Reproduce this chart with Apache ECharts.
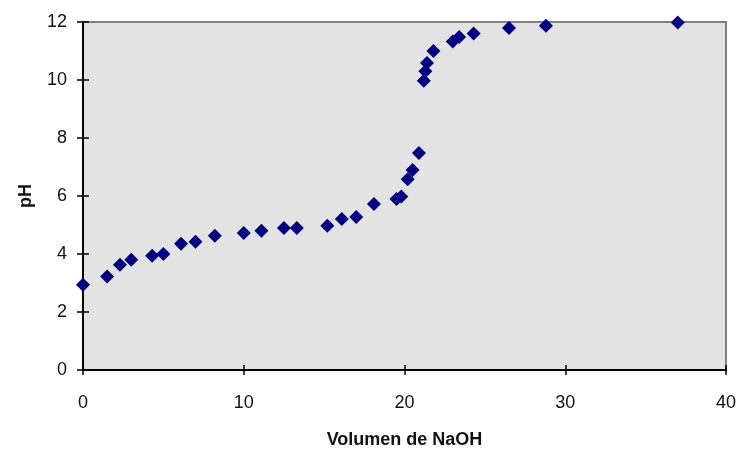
<!DOCTYPE html>
<html>
<head>
<meta charset="utf-8">
<script src="https://cdn.jsdelivr.net/npm/echarts@6/dist/echarts.min.js"></script>
<style>
    html, body { margin: 0; padding: 0; background: #fff; }
    #ph-chart { width: 739px; height: 450px; }
</style>
</head>
<body>
<div id="ph-chart"></div>
<script>
// curva de titulación: volumen de NaOH añadido vs pH
var volumen = [0, 1.5, 2.3, 3, 4.3, 5, 6.1, 7, 8.2, 10, 11.1, 12.5, 13.3, 15.2, 16.1, 17, 18.1, 19.5, 19.8, 20.2, 20.5, 20.9, 21.2, 21.3, 21.4, 21.8, 23, 23.4, 24.3, 26.5, 28.8, 37];
var ph = [2.94, 3.22, 3.63, 3.8, 3.94, 4.0, 4.35, 4.42, 4.63, 4.72, 4.8, 4.9, 4.9, 4.97, 5.21, 5.28, 5.72, 5.9, 5.98, 6.58, 6.9, 7.48, 9.97, 10.3, 10.59, 11.0, 11.33, 11.48, 11.6, 11.79, 11.87, 11.98];
var xTicks = { min: 0, max: 40, interval: 10 };
var yTicks = { min: 0, max: 12, interval: 2 };

var puntos = volumen.map(function (v, i) { return [v, ph[i]]; });

var myChart = echarts.init(document.getElementById('ph-chart'));
var fuente = '"Liberation Sans", Arial, sans-serif';
var textColor = '#111';

var option = {
    animation: false,
    textStyle: { fontFamily: fuente },
    grid: {
        left: 83,
        right: 13,
        top: 22,
        bottom: 80,
        outerBoundsMode: 'none',
        show: true,
        backgroundColor: '#e3e3e3',
        borderColor: '#808080',
        borderWidth: 2
    },
    xAxis: [{
        type: 'value',
        min: xTicks.min,
        max: xTicks.max,
        interval: xTicks.interval,
        name: 'Volumen de NaOH',
        nameLocation: 'middle',
        nameGap: 61,
        nameTextStyle: { color: textColor, fontSize: 18, fontWeight: 'bold', fontFamily: fuente },
        axisLine: { show: true, lineStyle: { color: '#000', width: 2 } },
        axisTick: { show: true, length: 5, lineStyle: { color: '#000', width: 1.5 } },
        axisLabel: { color: textColor, fontSize: 18, margin: 24, fontFamily: fuente },
        splitLine: { show: false }
    }, {
        // marcas hacia dentro (tipo cruz, como en Excel)
        type: 'value',
        position: 'bottom',
        min: xTicks.min,
        max: xTicks.max,
        interval: xTicks.interval,
        axisLine: { show: false },
        axisTick: { show: true, inside: true, length: 5, lineStyle: { color: '#000', width: 1.5 } },
        axisLabel: { show: false },
        splitLine: { show: false }
    }],
    yAxis: [{
        type: 'value',
        min: yTicks.min,
        max: yTicks.max,
        interval: yTicks.interval,
        name: 'pH',
        nameLocation: 'middle',
        nameGap: 48,
        nameRotate: 90,
        nameTextStyle: { color: textColor, fontSize: 18, fontWeight: 'bold', fontFamily: fuente },
        axisLine: { show: true, lineStyle: { color: '#000', width: 2 } },
        axisTick: { show: true, length: 6, lineStyle: { color: '#000', width: 1.5 } },
        axisLabel: { color: textColor, fontSize: 18, margin: 16, fontFamily: fuente },
        splitLine: { show: false }
    }, {
        type: 'value',
        position: 'left',
        min: yTicks.min,
        max: yTicks.max,
        interval: yTicks.interval,
        axisLine: { show: false },
        axisTick: { show: true, inside: true, length: 6, lineStyle: { color: '#000', width: 1.5 } },
        axisLabel: { show: false },
        splitLine: { show: false }
    }],
    series: [{
        name: 'pH',
        type: 'scatter',
        symbol: 'diamond',
        symbolSize: 14,
        itemStyle: { color: '#000080', opacity: 1 },
        clip: false,
        data: puntos
    }]
};

myChart.setOption(option);
</script>
</body>
</html>
